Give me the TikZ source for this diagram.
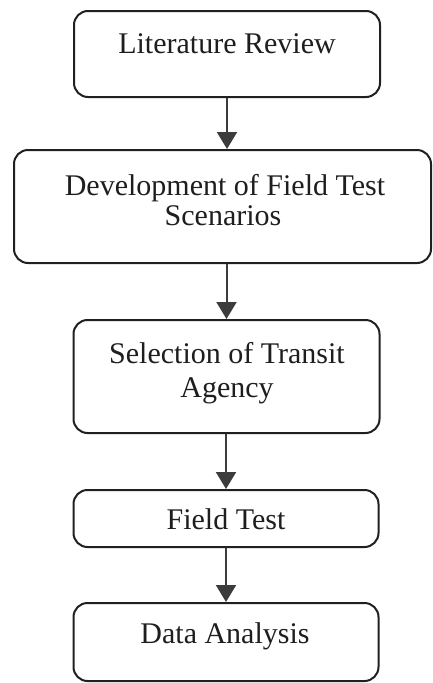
\documentclass[tikz,border=0pt]{standalone}
\usepackage{fontspec}
\setmainfont{Liberation Serif}
\usetikzlibrary{arrows.meta}
\definecolor{boxline}{HTML}{202020}
\definecolor{textcol}{HTML}{1E1E1E}
\definecolor{arrowcol}{HTML}{3C3C3C}
\begin{document}
\begin{tikzpicture}[x=1pt,y=-1pt,
  box/.style={draw=boxline, line width=2pt, rounded corners=14pt, inner sep=0pt, fill=white},
  txt/.style={anchor=base, inner sep=0pt, text=textcol, font=\fontsize{30}{34}\selectfont},
  flow/.style={draw=arrowcol, line width=2pt, -{Triangle[width=20pt,length=17pt]}}]
\useasboundingbox (0,0) rectangle (432,683);
% boxes
\node[box, minimum width=306pt, minimum height=86pt]  (b1) at (227,54) {};
\node[box, minimum width=417pt, minimum height=113pt] (b2) at (222.5,206.5) {};
\node[box, minimum width=306pt, minimum height=113pt] (b3) at (226.5,376.5) {};
\node[box, minimum width=305pt, minimum height=57pt]  (b4) at (226,518.5) {};
\node[box, minimum width=305pt, minimum height=78pt]  (b5) at (226,642) {};
% texts
\node[txt] (t1)  at (227,53)  {Literature Review};
\node[txt] (t2a) at (225,195) {Development of Field Test};
\node[txt] (t2b) at (223,225) {Scenarios};
\node[txt] (t3a) at (227,363) {Selection of Transit};
\node[txt] (t3b) at (227,397) {Agency};
\node[txt] (t4)  at (226,529) {Field Test};
\node[txt] (t5)  at (225,643) {Data Analysis};
% connectors
\draw[flow] (b1.south) -- (b1.south |- b2.north);
\draw[flow] (b3.north |- b2.south) -- (b3.north);
\draw[flow] (b4.north |- b3.south) -- (b4.north);
\draw[flow] (b4.south) -- (b5.north);
\end{tikzpicture}
\end{document}
